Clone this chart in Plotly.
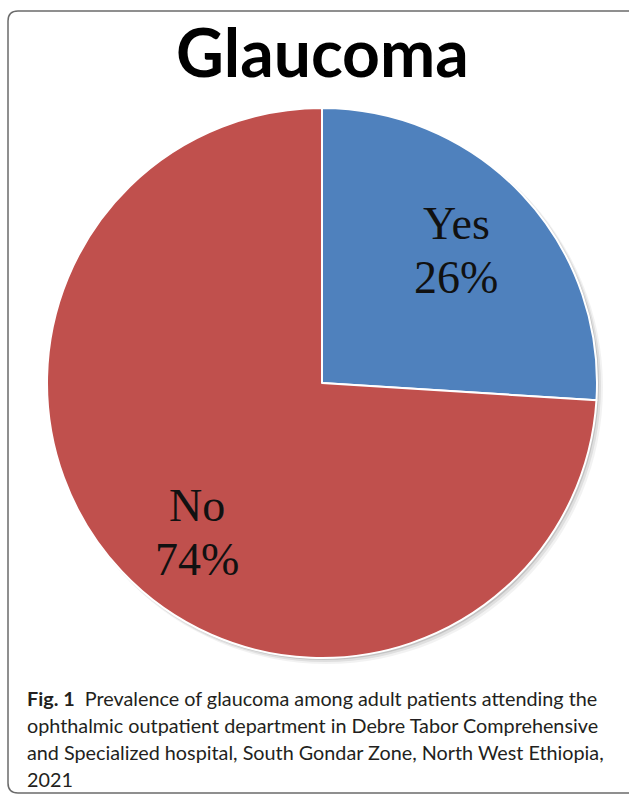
import plotly.graph_objects as go

labels = ["Yes", "No"]
values = [26, 74]
colors = ["#4F81BD", "#C0504D"]
title_text = "Glaucoma"
caption_bold = "Fig. 1"
caption_lines = [
    "Prevalence of glaucoma among adult patients attending the",
    "ophthalmic outpatient department in Debre Tabor Comprehensive",
    "and Specialized hospital, South Gondar Zone, North West Ethiopia,",
    "2021",
]

W, H = 629, 795
cx, cy, R = 322, 383, 275

def px(x):
    return x / W

def py(y):
    return 1 - y / H

fig = go.Figure()
fig.add_trace(go.Pie(
    labels=labels,
    values=values,
    sort=False,
    direction="clockwise",
    rotation=0,
    marker=dict(colors=colors, line=dict(color="white", width=2)),
    textinfo="none",
    hoverinfo="label+percent",
    showlegend=False,
    domain=dict(x=[px(cx - R), px(cx + R)], y=[py(cy + R), py(cy - R)]),
))

shapes = []
# soft shadow behind the pie
for off, op in [(6, 0.05), (4, 0.08), (2, 0.12)]:
    shapes.append(dict(type="circle", xref="paper", yref="paper", layer="below",
                       x0=px(cx - R + off * 0.5), x1=px(cx + R + off),
                       y0=py(cy + R + off), y1=py(cy - R + off * 0.5),
                       fillcolor=f"rgba(0,0,0,{op})", line=dict(width=0)))
# frame
x0f, y0f, x1f, y1f, r = 8, 11, 640, 793, 10
path = (f"M {px(x0f + r)} {py(y0f)} L {px(x1f - r)} {py(y0f)} "
        f"L {px(x1f)} {py(y0f + r)} L {px(x1f)} {py(y1f - r)} "
        f"L {px(x1f - r)} {py(y1f)} L {px(x0f + r)} {py(y1f)} "
        f"Q {px(x0f)} {py(y1f)} {px(x0f)} {py(y1f - r)} "
        f"L {px(x0f)} {py(y0f + r)} Q {px(x0f)} {py(y0f)} {px(x0f + r)} {py(y0f)} Z")
shapes.append(dict(type="path", xref="paper", yref="paper", path=path,
                   line=dict(color="#6b6b6b", width=1.5)))

total = sum(values)
label_pos = [(456, 224, 278), (197, 505, 559)]
annotations = []
for lab, v, (lx, ly1, ly2) in zip(labels, values, label_pos):
    for txt, ly in [(lab, ly1), (f"{round(100 * v / total)}%", ly2)]:
        annotations.append(dict(
            x=px(lx), y=py(ly), xref="paper", yref="paper", showarrow=False,
            text=txt,
            font=dict(family="Liberation Serif", size=46, color="#111111"),
            xanchor="center", yanchor="middle", align="center",
        ))

annotations.append(dict(
    x=px(cx), y=py(52), xref="paper", yref="paper", showarrow=False,
    text=f"<b>{title_text}</b>",
    font=dict(family="Lato", size=66, color="black"),
    xanchor="center", yanchor="middle",
))

cap_y = [698, 725, 752, 779]
for i, line in enumerate(caption_lines):
    txt = line
    if i == 0:
        txt = f"<b>{caption_bold}</b>  {line}"
    annotations.append(dict(
        x=px(25), y=py(cap_y[i]), xref="paper", yref="paper", showarrow=False,
        text=txt, font=dict(family="Lato", size=19.8, color="#231f20"),
        xanchor="left", yanchor="middle", align="left",
    ))

fig.update_layout(
    width=W, height=H,
    margin=dict(l=0, r=0, t=0, b=0),
    paper_bgcolor="white", plot_bgcolor="white",
    shapes=shapes, annotations=annotations,
)

fig.write_html("out.html")
